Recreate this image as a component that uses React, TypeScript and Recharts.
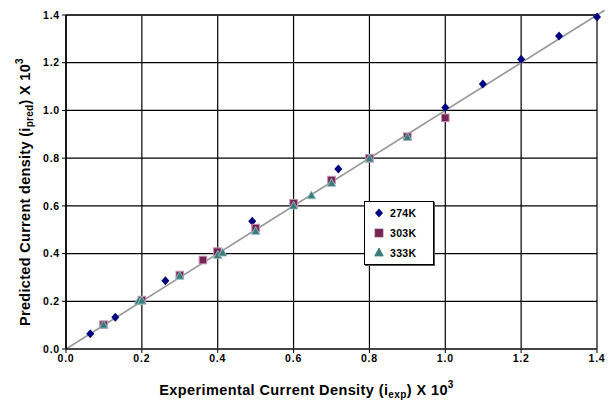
import {
  ScatterChart,
  Scatter,
  XAxis,
  YAxis,
  CartesianGrid,
  ReferenceLine,
  Legend,
} from "recharts";

const FONT = "Arial, 'Liberation Sans', sans-serif";

const ticks = [0, 0.2, 0.4, 0.6, 0.8, 1.0, 1.2, 1.4];

// 274K
const exp274 = [0.064, 0.13, 0.262, 0.491, 0.718, 1.0, 1.099, 1.2, 1.3, 1.4];
const pred274 = [0.064, 0.133, 0.286, 0.535, 0.754, 1.012, 1.111, 1.215, 1.312, 1.392];

// 303K
const exp303 = [0.099, 0.2, 0.3, 0.361, 0.399, 0.5, 0.6, 0.7, 0.8, 0.9, 1.0];
const pred303 = [0.102, 0.205, 0.31, 0.373, 0.408, 0.507, 0.611, 0.708, 0.799, 0.89, 0.969];

// 333K
const exp333 = [0.099, 0.191, 0.2, 0.3, 0.4, 0.413, 0.5, 0.6, 0.647, 0.7, 0.8, 0.9];
const pred333 = [0.1, 0.198, 0.201, 0.305, 0.392, 0.402, 0.492, 0.599, 0.642, 0.694, 0.797, 0.887];

const toPoints = (xs: number[], ys: number[]) => xs.map((x, i) => ({ x, y: ys[i] }));

const series = [
  { name: "274K", data: toPoints(exp274, pred274), color: "#000080", edge: "#000080", shape: "diamond" },
  { name: "303K", data: toPoints(exp303, pred303), color: "#742454", edge: "#c890b0", shape: "square" },
  { name: "333K", data: toPoints(exp333, pred333), color: "#3b7b7b", edge: "#a0c8c8", shape: "triangle" },
];

const Marker = ({ cx, cy, kind, fill, edge }: any) => {
  if (cx == null || cy == null) return null;
  if (kind === "diamond") {
    return (
      <polygon
        points={`${cx},${cy - 4.5} ${cx + 4},${cy} ${cx},${cy + 4.5} ${cx - 4},${cy}`}
        fill={fill}
      />
    );
  }
  if (kind === "square") {
    return (
      <rect x={cx - 3.8} y={cy - 3.8} width={7.6} height={7.6} fill={fill} stroke={edge} strokeWidth={1} />
    );
  }
  return (
    <polygon
      points={`${cx},${cy - 5} ${cx + 4.3},${cy + 3} ${cx - 4.3},${cy + 3}`}
      fill={fill}
      stroke={edge}
      strokeWidth={0.8}
    />
  );
};

const XTitle = ({ viewBox }: any) => {
  const { x, width } = viewBox;
  return (
    <text
      x={x + width / 2 - 25}
      y={395}
      textAnchor="middle"
      fontFamily={FONT}
      fontWeight="bold"
      fontSize={14.5}
      letterSpacing={0.4}
      fill="#000"
    >
      Experimental Current Density (i
      <tspan fontSize={10} dy={3}>exp</tspan>
      <tspan dy={-3}>) X 10</tspan>
      <tspan fontSize={10} dy={-7}>3</tspan>
    </text>
  );
};

const YTitle = ({ viewBox }: any) => {
  const cy = viewBox.y + viewBox.height / 2 + 10;
  return (
    <text
      x={30}
      y={cy}
      transform={`rotate(-90 30 ${cy})`}
      textAnchor="middle"
      fontFamily={FONT}
      fontWeight="bold"
      fontSize={14.5}
      letterSpacing={0.3}
      fill="#000"
    >
      Predicted Current density (i
      <tspan fontSize={10} dy={3}>pred</tspan>
      <tspan dy={-3}>) X 10</tspan>
      <tspan fontSize={10} dy={-7}>3</tspan>
    </text>
  );
};

const LegendBox = () => (
  <div
    style={{
      border: "1px solid #000",
      boxShadow: "1px 1px 0 #555",
      background: "#fff",
      padding: "1px 0 1px 8px",
      fontFamily: FONT,
      fontWeight: "bold",
      fontSize: 10.5,
    }}
  >
    {series.map((s) => (
      <div key={s.name} style={{ display: "flex", alignItems: "center", height: 20 }}>
        <svg width={12} height={12} style={{ marginRight: 5 }}>
          <Marker cx={6} cy={6} kind={s.shape} fill={s.color} edge={s.color} />
        </svg>
        <span style={{ letterSpacing: 0.3 }}>{s.name}</span>
      </div>
    ))}
  </div>
);

const tickStyle = { fontFamily: FONT, fontWeight: "bold", fontSize: 10.5, fill: "#000", letterSpacing: 0.8 };

export default function App() {
  return (
    <div style={{ position: "absolute", left: 0, top: 0, background: "#fff" }}>
      <ScatterChart
        width={614}
        height={403}
        margin={{ top: 15, right: 17, bottom: 24, left: 6 }}
      >
        <CartesianGrid stroke="#000" strokeWidth={1.2} />
        <XAxis
          type="number"
          dataKey="x"
          domain={[0, 1.4]}
          ticks={ticks}
          tickFormatter={(v: number) => v.toFixed(1)}
          tick={tickStyle}
          tickSize={4}
          axisLine={{ stroke: "#444", strokeWidth: 2 }}
          tickLine={{ stroke: "#000" }}
          height={30}
          label={<XTitle />}
        />
        <YAxis
          type="number"
          dataKey="y"
          domain={[0, 1.4]}
          ticks={ticks}
          tickFormatter={(v: number) => v.toFixed(1)}
          tick={tickStyle}
          tickSize={4}
          axisLine={{ stroke: "#000", strokeWidth: 1.5 }}
          tickLine={{ stroke: "#000" }}
          width={60}
          label={<YTitle />}
        />
        <ReferenceLine y={1.4} stroke="#333" strokeWidth={2.2} />
        <ReferenceLine
          segment={[
            { x: 0, y: 0 },
            { x: 1.42, y: 1.42 },
          ]}
          stroke="#999"
          strokeWidth={1.6}
          ifOverflow="visible"
        />
        {series.map((s) => (
          <Scatter
            key={s.name}
            name={s.name}
            data={s.data}
            fill={s.color}
            isAnimationActive={false}
            shape={(p: any) => <Marker {...p} kind={s.shape} fill={s.color} edge={s.edge} />}
          />
        ))}
        <Legend
          layout="vertical"
          align="center"
          verticalAlign="middle"
          content={<LegendBox />}
          wrapperStyle={{ position: "absolute", left: 364, top: 201, width: 70, height: 62 }}
        />
      </ScatterChart>
    </div>
  );
}
